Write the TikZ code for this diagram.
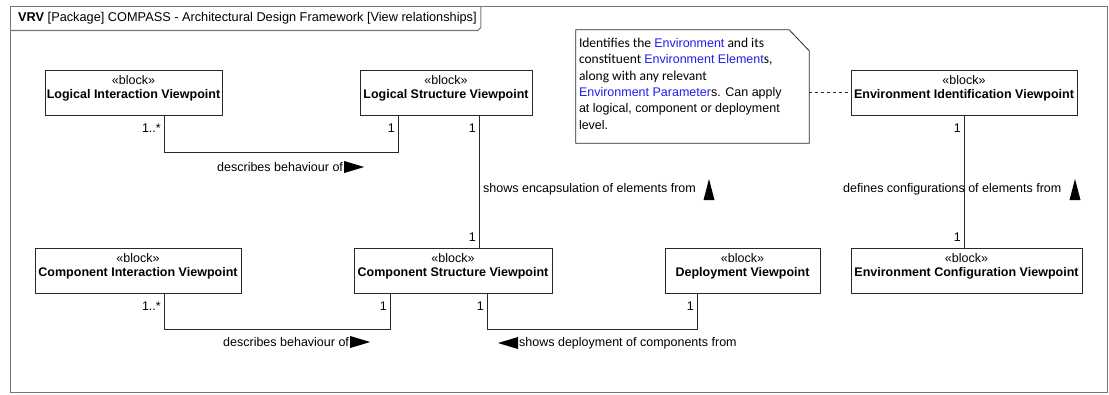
\documentclass[tikz,border=0pt]{standalone}
\usepackage{fontspec}
\setmainfont{Liberation Sans}
\newfontfamily\carlito{Carlito}
\definecolor{notelink}{RGB}{30,30,235}
\definecolor{framegray}{RGB}{120,120,120}
\definecolor{edge}{RGB}{40,40,40}
\begin{document}
\begin{tikzpicture}[x=1pt,y=-1pt,
  font=\fontsize{12.5}{14.5}\selectfont,
  block/.style={draw=edge, line width=0.8pt, inner sep=0, minimum height=45pt},
  btitle/.style={anchor=north, align=center, inner sep=0, yshift=-5.5pt},
  mult/.style={anchor=east, inner sep=0},
  lab/.style={anchor=west, inner sep=0},
  conn/.style={draw=edge, line width=0.8pt},
  tri/.style={fill=black}]
\useasboundingbox (0,0) rectangle (1109,394);
% frame
\draw[framegray, line width=1.1pt] (10.5,6.5) rectangle (1107.5,392.5);
\node[anchor=west, inner sep=0, font=\fontsize{12.75}{14.5}\selectfont] (title) at (18,18.5) {\textbf{VRV} [Package] COMPASS - Architectural Design Framework [View relationships]};
\draw[framegray, line width=1.1pt] (10.5,30.5) -- ([xshift=1pt]title.east |- 0,30.5) -- ([xshift=4pt]title.east |- 0,27.5) -- ([xshift=4pt]title.east |- 0,6.5);
% blocks
\node[block, minimum width=177pt] (li) at (133.5,92.5) {};
\node[btitle] (lit) at (li.north) {«block»\\\textbf{Logical Interaction Viewpoint}};
\node[block, minimum width=172pt] (ls) at (446,92.5) {};
\node[btitle] (lst) at (ls.north) {«block»\\\textbf{Logical Structure Viewpoint}};
\node[block, minimum width=226pt] (eid) at (964,92.5) {};
\node[btitle] (eidt) at (eid.north) {«block»\\\textbf{Environment Identification Viewpoint}};
\node[block, minimum width=206pt] (ci) at (138,270.5) {};
\node[btitle] (cit) at (ci.north) {«block»\\\textbf{Component Interaction Viewpoint}};
\node[block, minimum width=198pt] (cs) at (453,270.5) {};
\node[btitle] (cst) at (cs.north) {«block»\\\textbf{Component Structure Viewpoint}};
\node[block, minimum width=155pt] (dp) at (742.5,270.5) {};
\node[btitle] (dpt) at (dp.north) {«block»\\\textbf{Deployment Viewpoint}};
\node[block, minimum width=231pt] (ecf) at (966.5,270.5) {};
\node[btitle] (ecft) at (ecf.north) {«block»\\\textbf{Environment Configuration Viewpoint}};
% note
\node[inner sep=0, minimum width=233pt, minimum height=113pt] (note) at (692.5,86.5) {};
\draw[edge, line width=0.8pt] (note.north west) -- ([xshift=-20pt]note.north east) -- ([yshift=-21pt]note.north east) -- (note.south east) -- (note.south west) -- cycle;
\node[anchor=north west, inner sep=0, align=left, font=\fontsize{12.5}{16.4}\selectfont] (notetext) at ([xshift=3pt,yshift=-8pt]note.north west)
 {{\carlito\fontsize{13.5}{16.4}\selectfont Identifies the }\textcolor{notelink}{Environment}{\carlito\fontsize{13.5}{16.4}\selectfont\ and its}\\
  {\carlito\fontsize{13.5}{16.4}\selectfont constituent }\textcolor{notelink}{Environment Element}{\carlito\fontsize{13.5}{16.4}\selectfont s,}\\
  {\carlito\fontsize{13.5}{16.4}\selectfont along with any relevant}\\
  \textcolor{notelink}{Environment Parameter}s. Can apply\\
  at logical, component or deployment\\
  level.};
\draw[edge, dashed, line width=0.6pt] (note.east |- eid.west) -- (eid.west);
% connectors
\draw[conn] (li.south -| 164,0) -- (164,152) -- (398,152) -- (ls.south -| 398,0);
\draw[conn] (ls.south -| 479,0) -- (cs.north -| 479,0);
\draw[conn] (ci.south -| 164,0) -- (164,329) -- (390,329) -- (cs.south -| 390,0);
\draw[conn] (cs.south -| 487,0) -- (487,329) -- (697,329) -- (dp.south -| 697,0);
\draw[conn] (eid.south) -- (ecf.north -| eid.south);
% multiplicities
\node[mult] (m1) at (161,128) {1..*};
\node[mult] (m2) at (395,128) {1};
\node[mult] (m3) at (476,128) {1};
\node[mult] (m4) at (961,128) {1};
\node[mult] (m5) at (476,237) {1};
\node[mult] (m6) at (961,237) {1};
\node[mult] (m7) at (161,306) {1..*};
\node[mult] (m8) at (387,306) {1};
\node[mult] (m9) at (484,306) {1};
\node[mult] (m10) at (694,306) {1};
% labels
\node[lab] (d1) at (217,167) {describes behaviour of};
\fill[tri] ([xshift=1pt]d1.east) -- ++(0,-6) -- ++(20,6) -- ++(-20,6) -- cycle;
\node[lab] (d2) at (223,342) {describes behaviour of};
\fill[tri] ([xshift=1pt]d2.east) -- ++(0,-6) -- ++(20,6) -- ++(-20,6) -- cycle;
\node[lab] (d3) at (519,343) {shows deployment of components from};
\fill[tri] ([xshift=-1pt]d3.west) -- ++(0,-6) -- ++(-20,6) -- ++(20,6) -- cycle;
\node[lab] (e1) at (483,189) {shows encapsulation of elements from};
\fill[tri] (709,179) -- (714.5,200) -- (703.5,200) -- cycle;
\node[lab] (f1) at (843,189) {defines configurations of elements from};
\fill[tri] (1075,179) -- (1080.5,200) -- (1069.5,200) -- cycle;
\end{tikzpicture}
\end{document}
